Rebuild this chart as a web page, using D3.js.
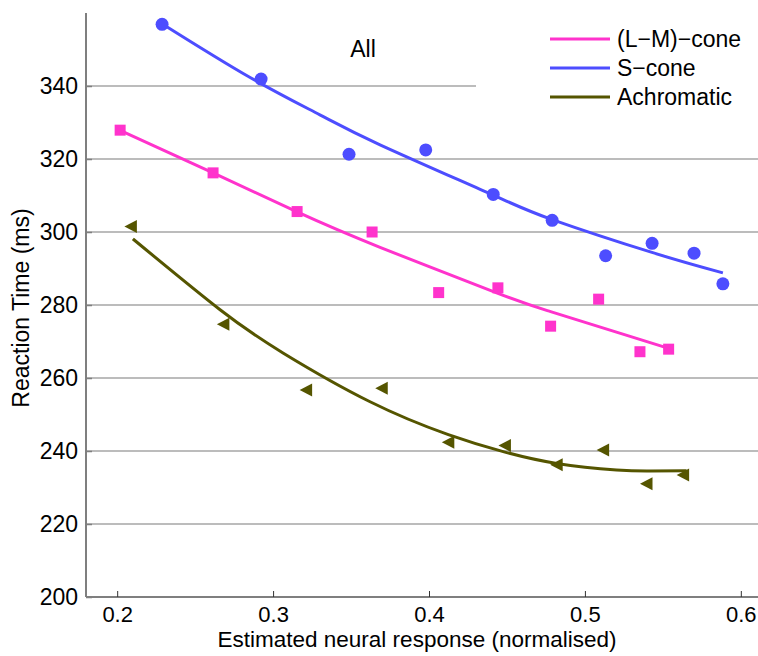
<!DOCTYPE html>
<html><head><meta charset="utf-8">
<script src="https://cdn.jsdelivr.net/npm/d3@7"></script>
<style>body{margin:0;background:#fff}svg{display:block}text{font-family:"Liberation Sans",Arial,Helvetica,sans-serif}</style>
</head><body><svg id="c" width="758" height="656"></svg>
<script>
const xTicks=[0.2,0.3,0.4,0.5,0.6];
const yTicks=[200,220,240,260,280,300,320,340];
const seriesNames=["(L\u2212M)\u2212cone","S\u2212cone","Achromatic"];
const seriesColors=["#ff33cc","#4d4dff","#555500"];
// scatter points [x, y]
const lmPoints=[[0.2019,327.9],[0.2615,316.2],[0.3154,305.6],[0.3635,300.0],[0.4062,283.4],[0.4442,284.7],[0.478,274.2],[0.5088,281.6],[0.5353,267.2],[0.5537,267.9]];
const sPoints=[[0.2288,356.9],[0.2923,341.9],[0.3487,321.3],[0.3979,322.5],[0.4412,310.3],[0.479,303.2],[0.5133,293.5],[0.5431,296.9],[0.570,294.2],[0.5885,285.8]];
const achPoints=[[0.2088,301.5],[0.2681,274.7],[0.3212,256.7],[0.3697,257.2],[0.4124,242.4],[0.4487,241.5],[0.4819,236.2],[0.5117,240.3],[0.5395,231.0],[0.563,233.4]];
// fitted curves
const lmFit=[[0.2015,327.9],[0.2615,316.2],[0.3154,305.5],[0.3686,295.8],[0.4442,283.2],[0.478,278.2],[0.5537,268.1]];
const sFit=[[0.229,357.0],[0.285,342.4],[0.33,332.1],[0.3686,323.9],[0.4412,310.1],[0.479,303.4],[0.543,294.4],[0.5885,288.8]];
const achFit=[[0.2101,298.1],[0.266,278.7],[0.3066,266.8],[0.3622,253.5],[0.4124,244.5],[0.4487,239.7],[0.4819,236.6],[0.5203,234.8],[0.5417,234.5],[0.5652,234.6]];

const svg=d3.select("#c");
const x=d3.scaleLinear().domain([0.18,0.62]).range([86,772]);
const y=d3.scaleLinear().domain([200,360]).range([597,13]);
const FS=23, TFS=22;

// grid
svg.append("g").selectAll("line").data(yTicks.filter(d=>d>200)).join("line")
 .attr("x1",x(0.18)).attr("x2",x(0.62)).attr("y1",d=>y(d)).attr("y2",d=>y(d))
 .attr("stroke","#a6a6a6").attr("stroke-width",1.5);

// legend background covering grid
svg.append("rect").attr("x",476).attr("y",14).attr("width",300).attr("height",104).attr("fill","#fff");

// axes
const xAxis=d3.axisBottom(x).tickValues(xTicks).tickSize(-6).tickPadding(9).tickFormat(d3.format(".1f"));
const gx=svg.append("g").attr("transform",`translate(0,${y(200)})`).call(xAxis);
gx.select(".domain").attr("stroke","#7f7f7f").attr("stroke-width",2).attr("d",`M${x(0.18)},0H${x(0.62)}`);
gx.selectAll(".tick line").attr("stroke","#333").attr("stroke-width",1);
gx.selectAll(".tick text").attr("font-size",TFS).attr("fill","#000").attr("dy","0.71em");

const yAxis=d3.axisLeft(y).tickValues(yTicks).tickSize(-6).tickPadding(8);
const gy=svg.append("g").attr("transform",`translate(${x(0.18)},0)`).call(yAxis);
gy.select(".domain").attr("stroke","#7f7f7f").attr("stroke-width",2).attr("d",`M0,${y(360)}V${y(200)}`);
gy.selectAll(".tick line").attr("stroke","#7f7f7f").attr("stroke-width",1.5);
gy.selectAll(".tick text").attr("font-size",FS).attr("fill","#000");

// axis titles
svg.append("text").attr("x",417).attr("y",647).attr("text-anchor","middle").attr("font-size",22.5)
 .text("Estimated neural response (normalised)");
svg.append("text").attr("transform","translate(29,308) rotate(-90)").attr("text-anchor","middle").attr("font-size",FS)
 .text("Reaction Time (ms)");
svg.append("text").attr("x",363).attr("y",57).attr("text-anchor","middle").attr("font-size",FS).text("All");

// fit lines
const line=d3.line().x(d=>x(d[0])).y(d=>y(d[1])).curve(d3.curveNatural);
[[lmFit,0],[sFit,1],[achFit,2]].forEach(([f,i])=>{
  svg.append("path").attr("d",line(f)).attr("fill","none").attr("stroke",seriesColors[i]).attr("stroke-width",3);
});

// markers
svg.append("g").selectAll("rect").data(lmPoints).join("rect")
 .attr("x",d=>x(d[0])-5.5).attr("y",d=>y(d[1])-5.5).attr("width",11).attr("height",11).attr("fill",seriesColors[0]);
svg.append("g").selectAll("circle").data(sPoints).join("circle")
 .attr("cx",d=>x(d[0])).attr("cy",d=>y(d[1])).attr("r",6.5).attr("fill",seriesColors[1]);
svg.append("g").selectAll("path").data(achPoints).join("path")
 .attr("d",d=>{const cx=x(d[0]),cy=y(d[1]);return `M${cx-6.5},${cy}L${cx+6},${cy-6.5}L${cx+6},${cy+6.5}Z`;})
 .attr("fill",seriesColors[2]);

// legend
const leg=svg.append("g");
const legY=[39,68,97];
seriesNames.forEach((n,i)=>{
  leg.append("line").attr("x1",550).attr("x2",610).attr("y1",legY[i]).attr("y2",legY[i]).attr("stroke",seriesColors[i]).attr("stroke-width",3);
  leg.append("text").attr("x",617).attr("y",legY[i]).attr("dy","0.35em").attr("font-size",FS).text(n);
});
</script></body></html>
